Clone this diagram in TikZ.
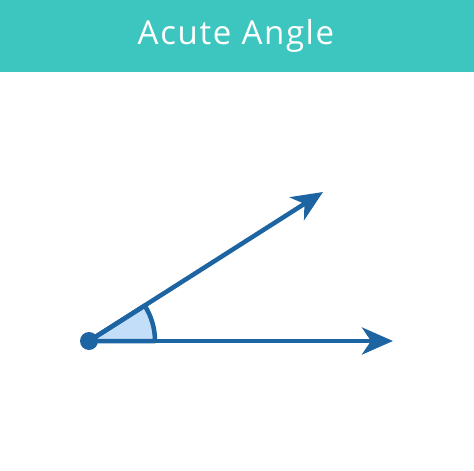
\documentclass[tikz,border=0pt]{standalone}
\usepackage{fontspec}
\setmainfont{Open Sans}[LetterSpace=5]
\usetikzlibrary{arrows.meta}
\definecolor{teal1}{HTML}{3DC6C0}
\definecolor{ray}{HTML}{1C65A2}
\definecolor{fillb}{HTML}{C2DEF8}
\tikzset{
  rayline/.style={draw=ray, line width=4.5pt, -{Stealth[length=31pt, width=27pt, inset=9pt]}},
  title/.style={text=white, font=\fontsize{33}{38}\selectfont, anchor=base, inner sep=0pt}
}
\begin{document}
\begin{tikzpicture}[x=1pt,y=-1pt]
\useasboundingbox (0,0) rectangle (474,471);
\fill[white] (0,0) rectangle (474,471);
\fill[teal1] (0,0) rectangle (474,72);
\node[title] (t) at (236,44) {Acute Angle};
\coordinate (v) at (89,341);
\coordinate (h) at (393,341);
\coordinate (o) at (323,192);
\filldraw[fill=fillb, draw=ray, line width=4.5pt, line join=round] (v) -- ++(66,0) arc[start angle=0, end angle=-32.4, radius=66] -- cycle;
\draw[rayline] (v) -- (h);
\draw[rayline] (v) -- (o);
\fill[ray] (v) circle[radius=9];
\end{tikzpicture}
\end{document}
